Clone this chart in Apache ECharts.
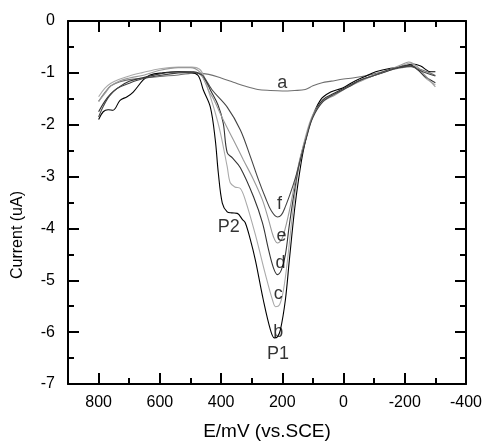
<!DOCTYPE html>
<html>
<head>
<meta charset="utf-8">
<script src="https://cdn.jsdelivr.net/npm/echarts@6/dist/echarts.min.js"></script>
<style>html,body{margin:0;padding:0;background:#fff}#c{width:483px;height:442px}</style>
</head>
<body>
<div id="c"></div>
<script>
// Potential (mV vs SCE) and current (uA) pairs
var curveA = [[800,-1.55],[780,-1.38],[760,-1.25],[730,-1.17],[700,-1.13],[650,-1.1],[600,-1.07],[540,-1.04],[480,-1.0],[440,-1.03],[400,-1.1],[360,-1.18],[320,-1.26],[280,-1.32],[240,-1.34],[200,-1.35],[160,-1.34],[125,-1.32],[100,-1.25],[70,-1.19],[40,-1.16],[0,-1.12],[-30,-1.1],[-60,-1.07],[-100,-1.02],[-150,-0.95],[-190,-0.9],[-220,-0.88],[-250,-0.93],[-280,-1.0],[-300,-1.05]];
var curveB = [[800,-1.9],[785,-1.75],[769,-1.71],[753,-1.72],[730,-1.53],[707,-1.46],[687,-1.37],[655,-1.14],[632,-1.04],[590,-1.0],[540,-0.98],[500,-0.99],[475,-1.05],[458,-1.33],[435,-1.66],[419,-2.29],[409,-2.93],[396,-3.51],[380,-3.68],[365,-3.7],[347,-3.71],[330,-3.83],[321,-3.89],[305,-4.2],[288,-4.61],[262,-5.38],[239,-5.95],[226,-6.11],[216,-6.09],[206,-5.95],[190,-5.38],[177,-4.61],[160,-3.64],[147,-3.06],[131,-2.49],[108,-1.95],[75,-1.52],[42,-1.37],[3,-1.29],[-30,-1.18],[-66,-1.08],[-105,-0.98],[-154,-0.91],[-187,-0.89],[-226,-0.83],[-252,-0.87],[-285,-0.98],[-300,-0.98]];
var curveC = [[800,-1.46],[780,-1.3],[760,-1.2],[730,-1.12],[700,-1.06],[660,-1.0],[600,-0.92],[540,-0.89],[495,-0.89],[470,-0.93],[455,-1.08],[442,-1.33],[420,-1.75],[402,-2.16],[380,-2.81],[370,-3.12],[355,-3.2],[337,-3.23],[321,-3.45],[288,-4.12],[255,-4.89],[232,-5.38],[222,-5.51],[209,-5.47],[196,-5.18],[183,-4.61],[167,-3.74],[150,-2.97],[131,-2.39],[105,-1.87],[75,-1.58],[33,-1.41],[-13,-1.27],[-56,-1.14],[-89,-1.06],[-138,-0.98],[-187,-0.87],[-219,-0.81],[-245,-0.94],[-268,-1.1],[-300,-1.23]];
var curveD = [[800,-1.75],[780,-1.55],[760,-1.4],[730,-1.26],[700,-1.16],[660,-1.1],[600,-1.02],[540,-0.98],[490,-0.98],[470,-1.02],[450,-1.15],[435,-1.33],[410,-1.62],[393,-1.97],[380,-2.54],[363,-2.64],[337,-2.83],[294,-3.39],[265,-3.89],[245,-4.41],[229,-4.76],[216,-4.89],[203,-4.8],[190,-4.51],[177,-3.93],[160,-3.26],[144,-2.72],[124,-2.29],[101,-1.85],[68,-1.52],[29,-1.39],[-17,-1.25],[-56,-1.14],[-95,-1.06],[-147,-0.96],[-193,-0.87],[-219,-0.85],[-242,-0.94],[-268,-1.08],[-300,-1.19]];
var curveE = [[800,-1.55],[780,-1.4],[760,-1.25],[730,-1.15],[700,-1.1],[650,-1.04],[600,-0.95],[540,-0.9],[500,-0.9],[470,-0.98],[455,-1.15],[440,-1.35],[425,-1.5],[396,-1.87],[360,-2.29],[327,-2.68],[294,-3.06],[265,-3.45],[245,-3.83],[229,-4.16],[216,-4.28],[203,-4.22],[190,-3.99],[173,-3.55],[157,-3.06],[141,-2.62],[121,-2.2],[101,-1.85],[68,-1.56],[29,-1.43],[-17,-1.27],[-56,-1.16],[-95,-1.06],[-147,-0.94],[-187,-0.85],[-213,-0.79],[-239,-0.87],[-268,-1.06],[-300,-1.27]];
var curveF = [[800,-1.85],[785,-1.65],[765,-1.45],[740,-1.3],[700,-1.2],[660,-1.12],[600,-1.05],[540,-1.0],[490,-0.99],[470,-1.02],[458,-1.06],[429,-1.33],[380,-1.66],[337,-2.1],[304,-2.62],[278,-3.06],[255,-3.41],[236,-3.66],[216,-3.78],[203,-3.74],[190,-3.58],[173,-3.31],[157,-3.02],[141,-2.68],[121,-2.25],[101,-1.87],[68,-1.56],[29,-1.41],[-17,-1.27],[-56,-1.14],[-95,-1.06],[-147,-0.94],[-187,-0.89],[-219,-0.87],[-245,-0.94],[-268,-1.0],[-300,-1.06]];
var curveNames = ['a','b','c','d','e','f'];
var curveColors = ['#707070','#000000','#aaaaaa','#333333','#999999','#444444'];
var labelPoints = [[200,-1.19,'a'],[213,-5.99,'b'],[213,-5.26,'c'],[206,-4.66,'d'],[203,-4.14,'e'],[209,-3.53,'f'],[214,-6.42,'P1'],[375,-3.97,'P2']];
var xTicks = {min:-400, max:900, interval:200};
var yTicks = {min:-7, max:0, interval:1};

var chart = echarts.init(document.getElementById('c'), null, {renderer:'canvas'});
var FONT = 'Liberation Sans, Arial, sans-serif';
function xAx(pos, show){
  return {type:'value', position:pos, inverse:true, min:xTicks.min, max:xTicks.max, interval:xTicks.interval,
    axisLine:{show:true, onZero:false, lineStyle:{color:'#000', width:2}},
    axisTick:{show:true, inside:true, length:11, lineStyle:{color:'#000', width:2}},
    minorTick:{show:true, splitNumber:2, length:6, lineStyle:{color:'#000', width:2}},
    splitLine:{show:false},
    axisLabel:{show:show, color:'#000', fontFamily:FONT, fontSize:16, margin:11, showMaxLabel:false},
    name: show ? 'E/mV (vs.SCE)' : '', nameLocation:'middle', nameGap:38,
    nameTextStyle:{color:'#000', fontFamily:FONT, fontSize:19}};
}
function yAx(pos, show){
  return {type:'value', position:pos, min:yTicks.min, max:yTicks.max, interval:yTicks.interval,
    axisLine:{show:true, onZero:false, lineStyle:{color:'#000', width:2}},
    axisTick:{show:true, inside:true, length:11, lineStyle:{color:'#000', width:2}},
    minorTick:{show:true, splitNumber:2, length:6, lineStyle:{color:'#000', width:2}},
    splitLine:{show:false},
    axisLabel:{show:show, color:'#000', fontFamily:FONT, fontSize:16, margin:13},
    name: show ? 'Current (uA)' : '', nameLocation:'middle', nameGap:42, nameRotate:90,
    nameTextStyle:{color:'#000', fontFamily:FONT, fontSize:16, padding:[0,65,0,0]}};
}
var curves = [curveA, curveB, curveC, curveD, curveE, curveF];
var series = curves.map(function(d, i){
  return {type:'line', name:curveNames[i], data:d, xAxisIndex:0, yAxisIndex:0,
    smooth:0.35, symbol:'none', lineStyle:{color:curveColors[i], width:1.1}, z:2, animation:false};
});
series.push({type:'scatter', data:labelPoints.map(function(p){return {value:[p[0],p[1]], name:p[2]};}),
  symbolSize:0, xAxisIndex:0, yAxisIndex:0, z:5, animation:false, silent:true,
  label:{show:true, position:'inside', formatter:function(p){return p.name;}, color:'#000',
    fontFamily:FONT, fontSize:18}});
chart.setOption({
  animation:false,
  backgroundColor:'#fff',
  grid:{left:68, right:17, top:21, bottom:58, containLabel:false, outerBoundsMode:'none'},
  xAxis:[xAx('bottom', true), xAx('top', false)],
  yAxis:[yAx('left', true), yAx('right', false)],
  series:series
});
</script>
</body>
</html>
